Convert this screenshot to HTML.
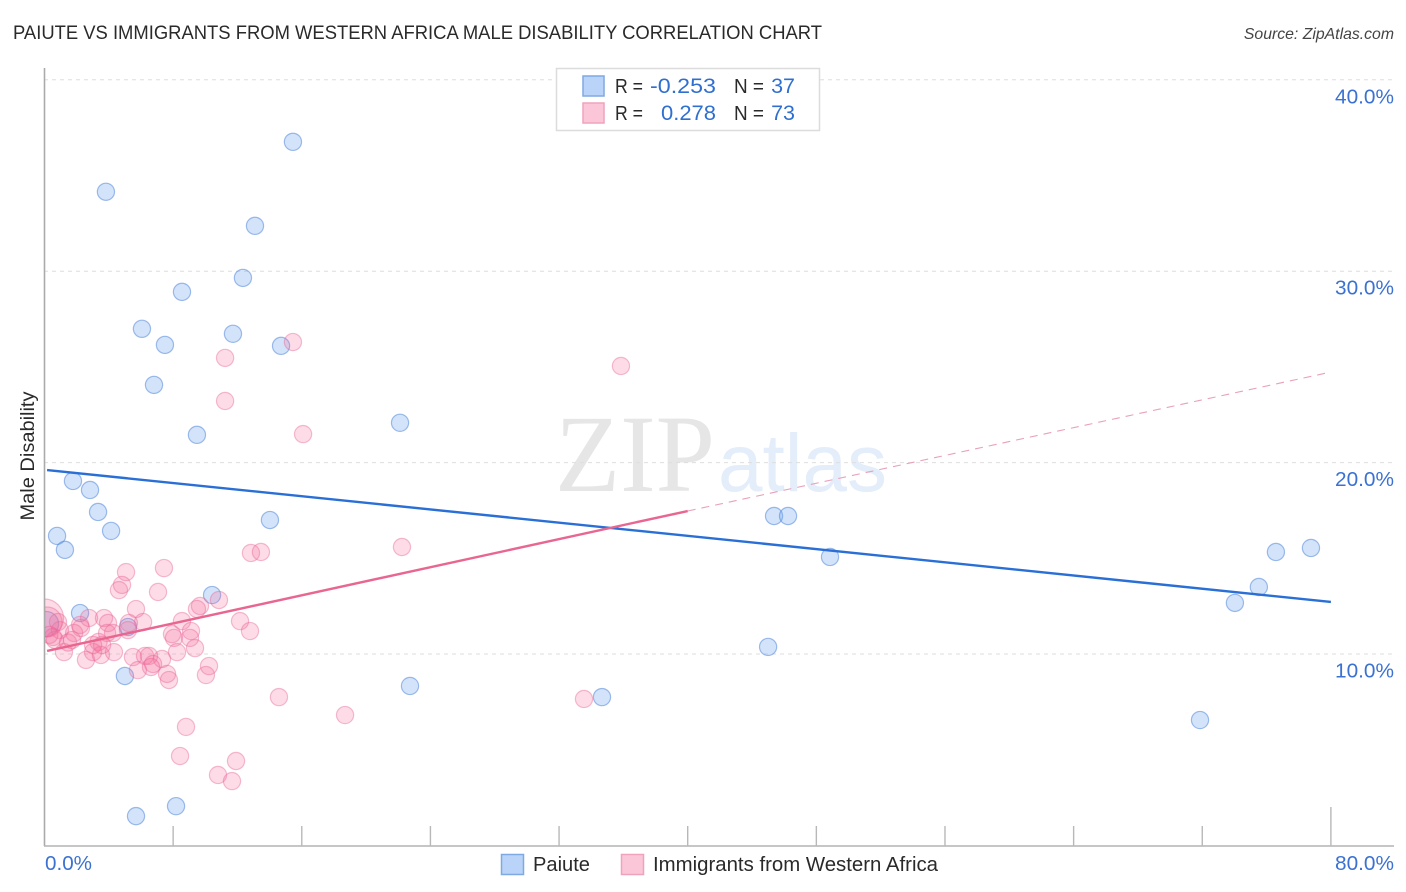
<!DOCTYPE html>
<html lang="en">
<head>
<meta charset="utf-8">
<title>Paiute vs Immigrants from Western Africa Male Disability Correlation Chart</title>
<style>
html,body{margin:0;padding:0;background:#fff;width:1406px;height:892px;overflow:hidden}
svg{display:block;font-family:"Liberation Sans",sans-serif}
</style>
</head>
<body>
<svg id="chart" xmlns="http://www.w3.org/2000/svg" width="1406" height="892" viewBox="0 0 1406 892">
  <defs>
    <clipPath id="plot-clip"><rect x="45" y="60" width="1350" height="786"/></clipPath>
  </defs>
  <text x="13" y="39" font-size="19" fill="#2a2a2a" textLength="809" lengthAdjust="spacingAndGlyphs">PAIUTE VS IMMIGRANTS FROM WESTERN AFRICA MALE DISABILITY CORRELATION CHART</text>
  <text x="1394" y="39" font-size="15.8" font-style="italic" fill="#444" text-anchor="end">Source: ZipAtlas.com</text>

  <g id="watermark">
    <text x="555" y="491" font-family="'Liberation Serif',serif" font-size="110" fill="#e6e6e6" textLength="160" lengthAdjust="spacingAndGlyphs">ZIP</text>
    <text x="718" y="491" font-size="82" fill="#e4edfa" textLength="169" lengthAdjust="spacingAndGlyphs">atlas</text>
  </g>

  <g id="grid"></g>
  <g id="axes"></g>
  <g id="marks-paiute" clip-path="url(#plot-clip)"></g>
  <g id="marks-immigrants" clip-path="url(#plot-clip)"></g>
  <g id="trends"></g>
  <g id="tick-labels"></g>

  <text transform="translate(34,456) rotate(-90)" font-size="19.5" fill="#2a2a2a" text-anchor="middle" textLength="129" lengthAdjust="spacingAndGlyphs">Male Disability</text>

  <g>
    <rect x="556.5" y="68.5" width="263" height="62" fill="#fff" stroke="#dcdcdc" stroke-width="1.5"/>
    <rect x="583" y="76" width="21" height="20" fill="#b9d4f8" stroke="#7fa9e2" stroke-width="1.5"/>
    <rect x="583" y="103" width="21" height="20" fill="#fcc6d9" stroke="#efa3bd" stroke-width="1.5"/>
    <g font-size="20" fill="#2a2a2a">
      <text x="615" y="93" textLength="28" lengthAdjust="spacingAndGlyphs">R =</text>
      <text x="615" y="120" textLength="28" lengthAdjust="spacingAndGlyphs">R =</text>
      <text x="734" y="93" textLength="30" lengthAdjust="spacingAndGlyphs">N =</text>
      <text x="734" y="120" textLength="30" lengthAdjust="spacingAndGlyphs">N =</text>
    </g>
    <g font-size="21.5" fill="#2f6fd0">
      <text x="650" y="93" textLength="66" lengthAdjust="spacingAndGlyphs">-0.253</text>
      <text x="661" y="120" textLength="55" lengthAdjust="spacingAndGlyphs">0.278</text>
      <text x="795" y="93" text-anchor="end">37</text>
      <text x="795" y="120" text-anchor="end">73</text>
    </g>
  </g>

  <g>
    <rect x="501.5" y="854.5" width="22" height="20" fill="#b9d4f8" stroke="#7fa9e2" stroke-width="1.5"/>
    <text x="533" y="871" font-size="20" fill="#2a2a2a" textLength="57" lengthAdjust="spacingAndGlyphs">Paiute</text>
    <rect x="621.5" y="854.5" width="22" height="20" fill="#fcc6d9" stroke="#efa3bd" stroke-width="1.5"/>
    <text x="653" y="871" font-size="20" fill="#2a2a2a" textLength="285" lengthAdjust="spacingAndGlyphs">Immigrants from Western Africa</text>
  </g>
</svg>
<script>
const xTickValues = [0, 8, 16, 24, 32, 40, 48, 56, 64, 72, 80];
const yTickValues = [10, 20, 30, 40];
const yTickLabels = ["10.0%", "20.0%", "30.0%", "40.0%"];
const xEndLabels = ["0.0%", "80.0%"];

const paiuteX = [15.45,3.82,13.09,12.34,8.55,6.06,11.72,7.49,14.71,6.81,22.11,9.48,1.77,2.83,3.33,4.14,14.02,0.78,1.27,10.42,2.21,0.1,5.19,5.0,22.73,34.67,45.0,45.37,46.24,48.85,71.86,74.03,75.52,76.58,78.76,5.69,8.18];
const paiuteY = [36.76,34.15,32.37,29.65,28.92,26.99,26.73,26.15,26.10,24.06,22.08,21.45,19.04,18.57,17.42,16.43,17.0,16.17,15.44,13.08,12.14,11.57,11.41,8.85,8.33,7.75,10.37,17.21,17.21,15.07,6.55,12.67,13.5,15.33,15.54,1.53,2.05];
const paiuteLargeIndex = 21;

const immigrantsX = [0,0.16,15.45,11.23,35.85,11.23,16.08,22.23,12.84,13.46,18.69,33.55,14.58,8.80,8.43,11.91,10.79,11.66,5.07,4.82,4.63,7.43,7.06,5.69,6.13,5.25,5.19,8.55,9.67,9.48,10.85,12.16,12.78,9.11,7.93,8.05,9.05,8.24,9.36,5.50,6.25,6.50,7.31,6.75,6.62,5.81,7.62,7.74,10.23,10.04,2.77,3.70,3.95,3.89,4.26,2.58,3.02,3.51,4.32,3.36,0.65,1.21,2.27,1.84,0.96,0.53,1.71,2.21,3.58,3.02,1.46,0.84,0.3];
const immigrantsY = [11.88,11.67,26.30,25.47,25.05,23.22,21.49,15.59,15.28,15.33,6.81,7.65,7.75,6.19,4.67,4.41,3.68,3.36,14.28,13.61,13.34,14.49,13.24,12.35,11.67,11.62,11.25,11.72,12.51,12.35,12.82,11.72,11.20,11.20,11.04,10.84,10.84,10.10,10.31,9.84,9.90,9.90,9.74,9.48,9.32,9.16,8.96,8.64,9.37,8.90,11.88,11.88,11.62,11.10,11.10,9.69,10.10,9.95,10.10,10.63,10.73,10.10,11.36,11.10,11.25,10.89,10.73,11.52,10.47,10.47,10.6,11.67,11.0];
const immigrantsLargeCount = 2;

const paiuteTrendX = [0.16, 80];
const paiuteTrendY = [19.61, 12.72];
const immigrantsTrendX = [0.16, 40];
const immigrantsTrendY = [10.16, 17.47];
const immigrantsDashX = [40, 80];
const immigrantsDashY = [17.47, 24.73];

const NS = "http://www.w3.org/2000/svg";
function xScale(v){ return 44.5 + v * 16.08; }
function yScale(v){ return 654 - (v - 10) * 19.14; }
function make(parentId, tag, attrs){
  const el = document.createElementNS(NS, tag);
  for (const k in attrs) el.setAttribute(k, attrs[k]);
  document.getElementById(parentId).appendChild(el);
  return el;
}

yTickValues.forEach(function(v, i){
  const line = make("grid", "line", {x1:44, x2:1394, y1:yScale(v), y2:yScale(v), stroke:"#dedede", "stroke-width":1, "stroke-dasharray":"4 4"});
  
  
  const label = make("tick-labels", "text", {x:1335, y:yScale(v) + 23.5, "font-size":20, fill:"#3b72d2", textLength:59, lengthAdjust:"spacingAndGlyphs"});
  label.textContent = yTickLabels[i];
  
  
});

const yAxisLine = make("axes", "line", {x1:44.5, x2:44.5, y1:68, y2:846, stroke:"#aaaaaa", "stroke-width":1.6});


const xAxisLine = make("axes", "line", {x1:44, x2:1394, y1:846, y2:846, stroke:"#b4b4b4", "stroke-width":1.6});



xTickValues.forEach(function(v, i){
  if (i === 0) return;
  const top = (i === xTickValues.length - 1) ? 807 : 826;
  const tick = make("axes", "line", {x1:xScale(v), x2:xScale(v), y1:top, y2:846, stroke:"#b8b8b8", "stroke-width":1.4});
  
  
});

const xLabelStart = make("tick-labels", "text", {x:45, y:870, "font-size":20, fill:"#3b72d2", textLength:47, lengthAdjust:"spacingAndGlyphs"});
xLabelStart.textContent = xEndLabels[0];


const xLabelEnd = make("tick-labels", "text", {x:1335, y:870, "font-size":20, fill:"#3b72d2", textLength:59, lengthAdjust:"spacingAndGlyphs"});
xLabelEnd.textContent = xEndLabels[1];



paiuteX.forEach(function(v, i){
  const c = make("marks-paiute", "circle", {cx:xScale(v), cy:yScale(paiuteY[i]), r:(i === paiuteLargeIndex ? 12.5 : 8.6), fill:"rgba(110,165,240,0.3)", stroke:"rgba(70,125,215,0.5)", "stroke-width":1.2});
  
  
});

immigrantsX.forEach(function(v, i){
  const c = make("marks-immigrants", "circle", {cx:xScale(v), cy:yScale(immigrantsY[i]), r:(i < immigrantsLargeCount ? 19 - i * 4 : 8.6), fill:"rgba(245,110,155,0.24)", stroke:"rgba(232,100,150,0.42)", "stroke-width":1.2});
  
  
});

const paiuteTrend = make("trends", "line", {x1:xScale(paiuteTrendX[0]), y1:yScale(paiuteTrendY[0]), x2:xScale(paiuteTrendX[1]), y2:yScale(paiuteTrendY[1]), stroke:"#2a6fd6", "stroke-width":2.4});


const immigrantsDash = make("trends", "line", {x1:xScale(immigrantsDashX[0]), y1:yScale(immigrantsDashY[0]), x2:xScale(immigrantsDashX[1]), y2:yScale(immigrantsDashY[1]), stroke:"#e9a0bb", "stroke-width":1.1, "stroke-dasharray":"8 6"});


const immigrantsTrend = make("trends", "line", {x1:xScale(immigrantsTrendX[0]), y1:yScale(immigrantsTrendY[0]), x2:xScale(immigrantsTrendX[1]), y2:yScale(immigrantsTrendY[1]), stroke:"#e8668f", "stroke-width":2.4});


</script>
</body>
</html>
